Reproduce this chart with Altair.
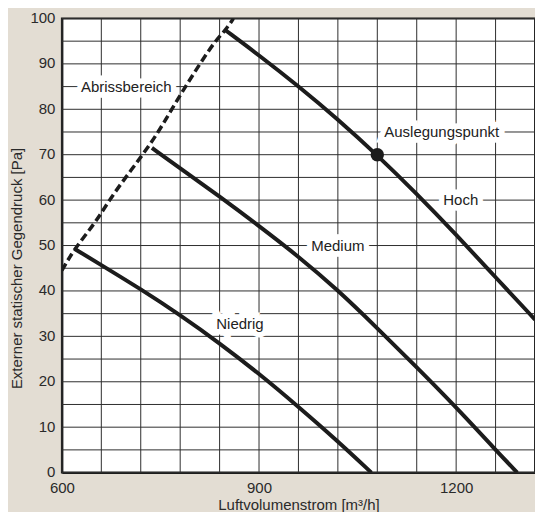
import altair as alt
import pandas as pd

# ---- data ----
abriss_x = [600, 619, 651, 672, 697, 723, 747, 767, 788, 810, 833, 849, 861]
abriss_y = [44.5, 49.3, 55.0, 60.0, 65.0, 70.0, 75.0, 80.0, 85.0, 90.0, 95.0, 97.4, 100.0]

hoch_x = [849, 900, 960, 1020, 1080, 1140, 1200, 1260, 1320]
hoch_y = [97.4, 91.9, 85.1, 77.8, 69.9, 61.4, 52.4, 43.0, 33.7]

medium_x = [737, 780, 840, 900, 960, 1020, 1080, 1140, 1200, 1260, 1293]
medium_y = [71.5, 67.0, 60.8, 54.3, 47.6, 40.2, 31.8, 23.2, 14.4, 5.0, 0.0]

niedrig_x = [619, 660, 720, 780, 840, 900, 960, 1020, 1071]
niedrig_y = [49.3, 45.7, 40.4, 34.7, 28.5, 21.8, 14.5, 6.9, 0.0]

design_x = [1080]
design_y = [70]

label_text = ["Abrissbereich", "Auslegungspunkt", "Hoch", "Medium", "Niedrig"]
label_x = [698, 1178, 1207, 1020, 871]
label_y = [85, 75, 60, 50, 32.7]

x_grid = list(range(600, 1321, 60))
y_grid = list(range(0, 101, 5))
x_ticks = [600, 900, 1200]
y_ticks = list(range(0, 101, 10))

FONT = "Liberation Sans, Arial, sans-serif"
INK = "#1c1c1c"
GRID = "#2e2e2e"

def frame(xs, ys, name):
    return pd.DataFrame({"x": xs, "y": ys, "curve": name})

solid = pd.concat([
    frame(hoch_x, hoch_y, "Hoch"),
    frame(medium_x, medium_y, "Medium"),
    frame(niedrig_x, niedrig_y, "Niedrig"),
])
abriss = frame(abriss_x, abriss_y, "Abriss")
design = pd.DataFrame({"x": design_x, "y": design_y})
labels = pd.DataFrame({"x": label_x, "y": label_y, "t": label_text})

x_scale = alt.Scale(domain=[600, 1320], nice=False, zero=False)
y_scale = alt.Scale(domain=[0, 100], nice=False, zero=False)

x_enc = alt.X(
    "x:Q", scale=x_scale,
    axis=alt.Axis(
        values=x_ticks, format="d",
        title="Luftvolumenstrom [m³/h]",
        ticks=False, grid=False,
        domainColor=INK, domainWidth=2,
        labelFont=FONT, labelFontSize=15, labelColor="#2a2a2a", labelPadding=8,
        labelFlush=False, labelOverlap=False,
        titleFont=FONT, titleFontSize=15, titleColor="#2a2a2a", titleFontWeight="normal",
        titleY=37, titleBaseline="alphabetic",
    ),
)
y_enc = alt.Y(
    "y:Q", scale=y_scale,
    axis=alt.Axis(
        values=y_ticks, format="d",
        title="Externer statischer Gegendruck [Pa]",
        ticks=False, grid=False,
        domainColor=INK, domainWidth=2,
        labelFont=FONT, labelFontSize=15, labelColor="#2a2a2a", labelPadding=7,
        labelOffset=-1, labelOverlap=False,
        titleFont=FONT, titleFontSize=15, titleColor="#2a2a2a", titleFontWeight="normal",
        titleX=-45, titleY=250, titleAlign="center", titleBaseline="middle",
    ),
)

vgrid = alt.Chart(pd.DataFrame({"gx": x_grid})).mark_rule(
    color=GRID, strokeWidth=1
).encode(x=alt.X("gx:Q", scale=x_scale))

hgrid = alt.Chart(pd.DataFrame({"gy": y_grid})).mark_rule(
    color=GRID, strokeWidth=1
).encode(y=alt.Y("gy:Q", scale=y_scale))

curves = alt.Chart(solid).mark_line(
    color=INK, strokeWidth=4, interpolate="basis", clip=True
).encode(x=x_enc, y=y_enc, detail="curve:N")

dashed = alt.Chart(abriss).mark_line(
    color=INK, strokeWidth=3.5, strokeDash=[8, 4], interpolate="basis", clip=True
).encode(x="x:Q", y="y:Q")

point = alt.Chart(design).mark_circle(color=INK, size=180, opacity=1).encode(
    x="x:Q", y="y:Q"
)

halo = alt.Chart(labels).mark_text(
    font=FONT, fontSize=15, color="white", stroke="white", strokeWidth=11,
    strokeJoin="miter", align="center", baseline="middle"
).encode(x="x:Q", y="y:Q", text="t:N")

text = alt.Chart(labels).mark_text(
    font=FONT, fontSize=15, color="#222", align="center", baseline="middle"
).encode(x="x:Q", y="y:Q", text="t:N")

chart = alt.layer(vgrid, hgrid, curves, halo, dashed, point, text).properties(
    width=474, height=455,
    background="#e3ddd3",
    autosize=alt.AutoSizeParams(type="none"),
    padding={"left": 54, "top": 10, "right": 0, "bottom": 39},
).configure_view(
    fill="white", stroke=INK, strokeWidth=2
)

chart.save("out.html", embed_options={"renderer": "svg", "actions": False})
